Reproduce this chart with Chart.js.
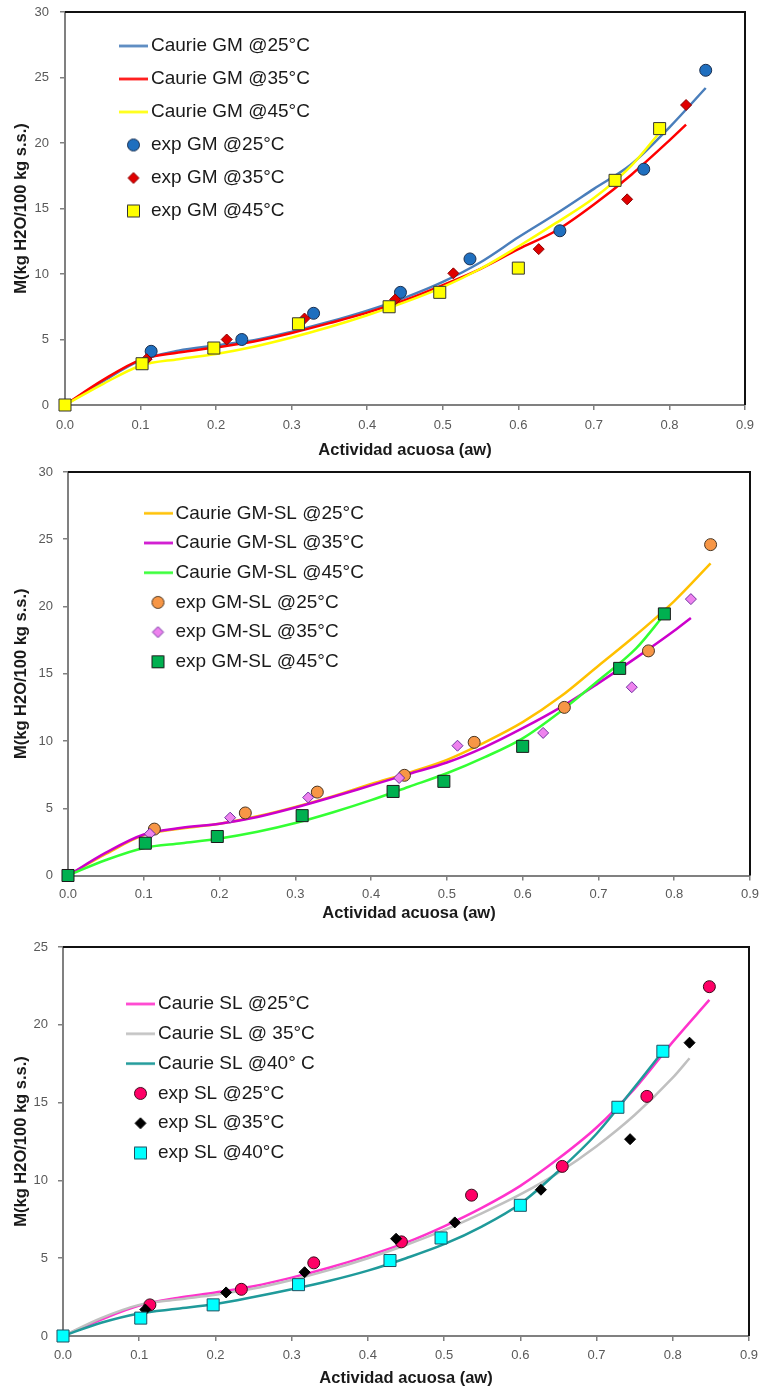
<!DOCTYPE html>
<html>
<head>
<meta charset="utf-8">
<script src="https://cdn.jsdelivr.net/npm/chart.js@4.4.1/dist/chart.umd.min.js"></script>
<style>
  body { margin: 0; background: #fff; }
  canvas { position: absolute; left: 0; }
</style>
</head>
<body>
<canvas id="chartGM" width="760" height="465" style="top:0px"></canvas>
<canvas id="chartGMSL" width="760" height="465" style="top:460px"></canvas>
<canvas id="chartSL" width="760" height="467" style="top:925px"></canvas>
<script>
// water activity of the experimental points (same salts in the three charts)
const awExp25 = [0.114, 0.234, 0.329, 0.444, 0.536, 0.655, 0.766, 0.848];
const awExp35 = [0.108, 0.214, 0.317, 0.437, 0.514, 0.627, 0.744, 0.822];
const awExp45 = [0, 0.102, 0.197, 0.309, 0.429, 0.496, 0.600, 0.728, 0.787];

// aw where the Caurie curves were read
const awFit25 = [0, 0.05, 0.1, 0.15, 0.2, 0.25, 0.3, 0.35, 0.4, 0.45, 0.5, 0.55, 0.6, 0.65, 0.7, 0.75, 0.8, 0.848];
const awFit35 = [0, 0.05, 0.1, 0.15, 0.2, 0.25, 0.3, 0.35, 0.4, 0.45, 0.5, 0.55, 0.6, 0.65, 0.7, 0.75, 0.8, 0.822];
const awFit45 = [0, 0.05, 0.1, 0.15, 0.2, 0.25, 0.3, 0.35, 0.4, 0.45, 0.5, 0.55, 0.6, 0.65, 0.7, 0.75, 0.787];

const xTicks = [0, 0.9, 0.1];   // min, max, step

// GM
const gmExp25 = [4.1, 5.0, 7.0, 8.6, 11.15, 13.3, 18.0, 25.55];
const gmExp35 = [3.5, 5.0, 6.6, 8.05, 10.05, 11.9, 15.7, 22.9];
const gmExp45 = [0, 3.15, 4.35, 6.2, 7.5, 8.6, 10.45, 17.15, 21.1];
const gmFit25 = [0, 1.8, 3.4, 4.15, 4.55, 4.95, 5.6, 6.35, 7.2, 8.2, 9.4, 10.9, 12.8, 14.6, 16.5, 18.4, 21.2, 24.2];
const gmFit35 = [0, 1.9, 3.45, 4.0, 4.4, 4.85, 5.5, 6.25, 7.05, 8.0, 9.15, 10.4, 11.9, 13.3, 15.3, 17.6, 20.2, 21.4];
const gmFit45 = [0, 1.6, 3.0, 3.5, 3.9, 4.45, 5.15, 5.95, 6.85, 7.85, 9.0, 10.4, 12.1, 13.9, 15.8, 18.3, 20.8];

// GM-SL
const gmslExp25 = [3.45, 4.65, 6.2, 7.45, 9.9, 12.5, 16.7, 24.6];
const gmslExp35 = [3.1, 4.3, 5.8, 7.25, 9.65, 10.6, 14.0, 20.55];
const gmslExp45 = [0, 2.4, 2.9, 4.45, 6.25, 7.0, 9.6, 15.4, 19.45];
const gmslFit25 = [0, 1.6, 3.0, 3.5, 3.85, 4.4, 5.1, 5.9, 6.8, 7.65, 8.6, 9.9, 11.4, 13.3, 15.6, 17.9, 20.4, 23.2];
const gmslFit35 = [0, 1.7, 3.05, 3.55, 3.85, 4.35, 5.05, 5.85, 6.7, 7.55, 8.4, 9.55, 10.95, 12.5, 14.3, 16.2, 18.2, 19.15];
const gmslFit45 = [0, 1.15, 2.05, 2.4, 2.75, 3.25, 3.9, 4.7, 5.6, 6.6, 7.6, 8.8, 10.2, 12.2, 14.5, 16.9, 19.4];

// SL
const slExp25 = [2.0, 3.0, 4.7, 6.05, 9.05, 10.9, 15.4, 22.45];
const slExp35 = [1.7, 2.8, 4.1, 6.25, 7.3, 9.4, 12.65, 18.85];
const slExp40 = [0, 1.15, 2.0, 3.3, 4.85, 6.3, 8.4, 14.7, 18.3];
const slFit25 = [0, 1.05, 1.95, 2.45, 2.8, 3.2, 3.75, 4.4, 5.15, 6.0, 7.05, 8.25, 9.65, 11.4, 13.4, 15.9, 18.9, 21.6];
const slFit35 = [0, 1.15, 2.0, 2.35, 2.65, 3.05, 3.6, 4.25, 5.0, 5.85, 6.8, 7.9, 9.1, 10.5, 12.2, 14.2, 16.6, 17.85];
const slFit40 = [0, 0.85, 1.45, 1.75, 2.05, 2.5, 3.0, 3.55, 4.2, 5.0, 5.9, 7.05, 8.5, 10.6, 13.0, 16.0, 18.3];

const FONT = '"Liberation Sans", Arial, sans-serif';
Chart.defaults.font.family = FONT;

function pts(xs, ys) {
  return xs.map((x, i) => ({ x: x, y: ys[i] }));
}

// small picture used as the legend symbol
function makeSymbol(kind, fill, stroke) {
  const c = document.createElement('canvas');
  const g = c.getContext('2d');
  if (kind === 'line') {
    c.width = 29; c.height = 5;
    g.fillStyle = fill;
    g.fillRect(0, 1.25, 29, 2.5);
    return c;
  }
  c.width = 15; c.height = 15;
  g.fillStyle = fill; g.strokeStyle = stroke; g.lineWidth = 1;
  g.beginPath();
  if (kind === 'circle') g.arc(7.5, 7.5, 6, 0, Math.PI * 2);
  else if (kind === 'rectRot') { g.moveTo(7.5, 2); g.lineTo(13, 7.5); g.lineTo(7.5, 13); g.lineTo(2, 7.5); g.closePath(); }
  else g.rect(1.5, 1.5, 12, 12);
  g.fill(); g.stroke();
  return c;
}

function curve(label, xs, ys, color) {
  return {
    label: label, data: pts(xs, ys), showLine: true,
    borderColor: color, backgroundColor: color, borderWidth: 2.5,
    pointRadius: 0, cubicInterpolationMode: 'monotone', clip: false,
    symbol: makeSymbol('line', color)
  };
}

function markers(label, xs, ys, style, fill, stroke) {
  const radius = style === 'circle' ? 6 : style === 'rectRot' ? 5.5 : 8.5;
  return {
    label: label, data: pts(xs, ys), showLine: false,
    pointStyle: style, pointRadius: radius, pointBorderWidth: 1,
    backgroundColor: fill, borderColor: stroke, clip: false,
    symbol: makeSymbol(style, fill, stroke)
  };
}

// puts the chartArea legend where it sits in the picture
const legendBox = {
  id: 'legendBox',
  afterLayout(chart, args, opts) {
    chart.legend.left = opts.left;
    chart.legend.top = opts.top;
  }
};

// black top and right edges of the plot area
const frame = {
  id: 'frame',
  afterDatasetsDraw(chart) {
    const a = chart.chartArea, ctx = chart.ctx;
    ctx.save();
    ctx.strokeStyle = '#111';
    ctx.lineWidth = 2;
    ctx.beginPath();
    ctx.moveTo(a.left, a.top);
    ctx.lineTo(a.right, a.top);
    ctx.lineTo(a.right, a.bottom);
    ctx.stroke();
    ctx.restore();
  }
};

function makeChart(id, datasets, yMax, L) {
  datasets.forEach((ds, i) => { ds.order = 10 - i; });
  return new Chart(document.getElementById(id), {
    type: 'scatter',
    data: { datasets: datasets },
    options: {
      responsive: false,
      animation: false,
      events: [],
      layout: { padding: { top: L.top, right: L.right, left: 0, bottom: 0 } },
      plugins: {
        tooltip: { enabled: false },
        legend: {
          position: 'chartArea',
          align: 'start',
          labels: {
            usePointStyle: true,
            pointStyleWidth: 16,
            padding: L.legendPad,
            color: '#1a1a1a',
            font: { size: 19, family: FONT },
            generateLabels: chart => chart.data.datasets.map((ds, i) => ({
              text: ds.label, pointStyle: ds.symbol, datasetIndex: i, hidden: false,
              fillStyle: ds.backgroundColor, strokeStyle: ds.borderColor, lineWidth: 0,
              fontColor: '#1a1a1a'
            }))
          }
        },
        legendBox: { left: L.legendLeft, top: L.legendTop }
      },
      scales: {
        x: {
          type: 'linear', min: xTicks[0], max: xTicks[1],
          border: { color: '#808080', width: 2 },
          grid: { drawOnChartArea: false, tickLength: 5, color: '#808080', lineWidth: 1.5 },
          ticks: { stepSize: xTicks[2], padding: L.xPad, color: '#595959', font: { size: 13 },
                   maxRotation: 0, autoSkip: false, callback: v => v.toFixed(1) },
          title: { display: true, text: 'Actividad acuosa (aw)', color: '#1a1a1a',
                   font: { size: 16.5, weight: 'bold' }, padding: { top: 0, bottom: L.titlePad } },
          afterFit: s => { s.height = L.xHeight; s.paddingLeft = 0; s.paddingRight = 0; }
        },
        y: {
          min: 0, max: yMax,
          border: { color: '#808080', width: 2 },
          grid: { drawOnChartArea: false, tickLength: 5, color: '#808080', lineWidth: 1.5 },
          ticks: { stepSize: 5, padding: L.yPad, color: '#595959', font: { size: 13 } },
          title: { display: true, text: 'M(kg H2O/100 kg s.s.)', color: '#1a1a1a',
                   font: { size: 16.5, weight: 'bold' }, padding: { top: 12, bottom: 0 } },
          afterFit: s => { s.width = L.yWidth; s.paddingTop = 0; s.paddingBottom = 0; }
        }
      }
    },
    plugins: [legendBox, frame]
  });
}

makeChart('chartGM', [
  curve('Caurie GM @25°C', awFit25, gmFit25, '#4A7EBB'),
  curve('Caurie GM @35°C', awFit35, gmFit35, '#FF0000'),
  curve('Caurie GM @45°C', awFit45, gmFit45, '#FFFF00'),
  markers('exp GM @25°C', awExp25, gmExp25, 'circle', '#1F6FBF', '#1B2F4F'),
  markers('exp GM @35°C', awExp35, gmExp35, 'rectRot', '#E00000', '#8B0000'),
  markers('exp GM @45°C', awExp45, gmExp45, 'rect', '#FFFF00', '#333333')
], 30, { top: 12, right: 15, yWidth: 65, xHeight: 60, xPad: 8, yPad: 11, titlePad: 5,
         legendLeft: 111.5, legendTop: 22.5, legendPad: 14 });

makeChart('chartGMSL', [
  curve('Caurie GM-SL @25°C', awFit25, gmslFit25, '#FFC000'),
  curve('Caurie GM-SL @35°C', awFit35, gmslFit35, '#CC00CC'),
  curve('Caurie GM-SL @45°C', awFit45, gmslFit45, '#33FF33'),
  markers('exp GM-SL @25°C', awExp25, gmslExp25, 'circle', '#F79646', '#4A3520'),
  markers('exp GM-SL @35°C', awExp35, gmslExp35, 'rectRot', '#EE82EE', '#7030A0'),
  markers('exp GM-SL @45°C', awExp45, gmslExp45, 'rect', '#00B050', '#1A1A1A')
], 30, { top: 12, right: 10, yWidth: 68, xHeight: 49.5, xPad: 6, yPad: 10, titlePad: 1.8,
         legendLeft: 139.3, legendTop: 33.1, legendPad: 10.7 });

makeChart('chartSL', [
  curve('Caurie SL @25°C', awFit25, slFit25, '#FF33CC'),
  curve('Caurie SL @ 35°C', awFit35, slFit35, '#C0C0C0'),
  curve('Caurie SL @40° C', awFit45, slFit40, '#1F9A9A'),
  markers('exp SL @25°C', awExp25, slExp25, 'circle', '#FF0066', '#3A0A1A'),
  markers('exp SL @35°C', awExp35, slExp35, 'rectRot', '#000000', '#000000'),
  markers('exp SL @40°C', awExp45, slExp40, 'rect', '#00FFFF', '#1F4E5F')
], 25, { top: 22, right: 11, yWidth: 63, xHeight: 56, xPad: 7, yPad: 10, titlePad: 3.8,
         legendLeft: 121.7, legendTop: 58.7, legendPad: 10.8 });
</script>
</body>
</html>
